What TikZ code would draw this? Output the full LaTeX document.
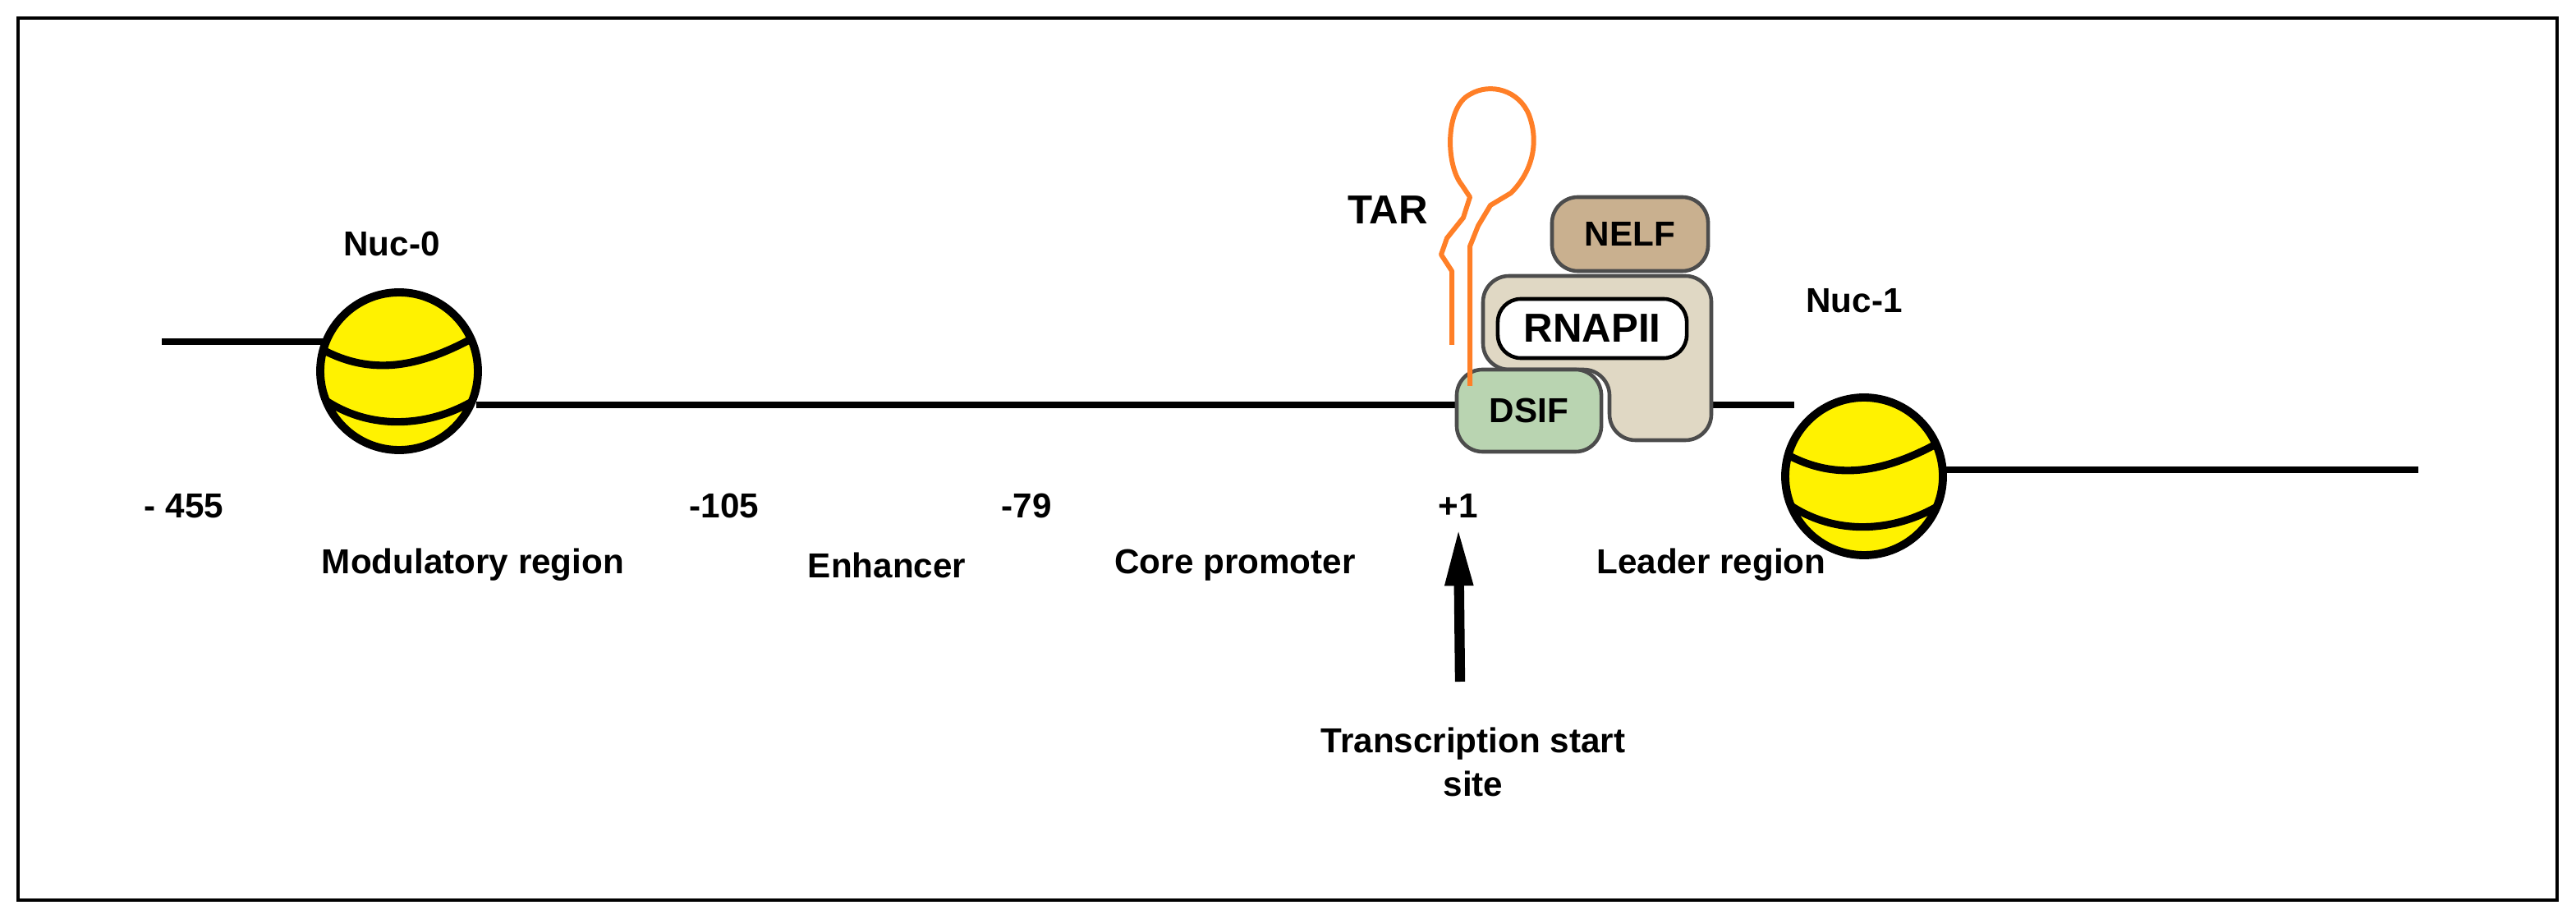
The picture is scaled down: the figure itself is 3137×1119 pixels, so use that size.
\documentclass[tikz,border=0pt]{standalone}
\usepackage{fontspec}
\setmainfont{Liberation Sans}
\usetikzlibrary{arrows.meta}
\definecolor{nucyellow}{HTML}{FFF200}
\definecolor{dsifgreen}{HTML}{B9D4B1}
\definecolor{nelftan}{HTML}{C9B08F}
\definecolor{polbeige}{HTML}{E0D8C4}
\definecolor{tarorange}{HTML}{FF7F27}
\newcommand{\nucleosome}[2]{%
  \begin{scope}[shift={(#1)}]
    \fill[nucyellow] (0,0) circle (96);
    \begin{scope}
      \clip (0,0) circle (96);
      \draw[line width=2.6pt] (-100,-30) .. controls (-40,5) and (20,0) .. (100,-46);
      \draw[line width=2.6pt] (-100,28) .. controls (-40,75) and (40,70) .. (100,30);
    \end{scope}
    \draw[line width=2.8pt] (0,0) circle (96);
    \node[label] (#2) at (0,0) {};
  \end{scope}}
\begin{document}
\begin{tikzpicture}
  [
    x = 0.01cm, y = -0.01cm,
    every node/.style = {font=\fontsize{12}{14}\selectfont\bfseries},
    label/.style      = {inner sep=0pt},
    dna/.style        = {line width=2.3pt},
    factor/.style     = {draw=black!70, line width=1.3pt, rounded corners=9pt},
    rna/.style        = {draw=tarorange, line width=1.7pt, line join=round}
  ]
  % frame
  \useasboundingbox (0,0) rectangle (3137,1119);
  \draw[line width=1pt] (22,22) rectangle (3114,1096);
  % DNA
  \coordinate (dnaL) at (197,416);
  \coordinate (dnaR) at (2945,572);
  \draw[dna] (dnaL) -- (395,416);
  \draw[dna] (580,493) -- (1790,493);
  \draw[dna] (2080,493) -- (2185,493);
  \draw[dna] (2350,572) -- (dnaR);
  % nucleosomes
  \nucleosome{486,452}{nuc0}
  \nucleosome{2270,580}{nuc1}
  \node (nuc0lab) at (477,297) {Nuc-0};
  \node (nuc1lab) at (2258,366) {Nuc-1};
  % polymerase complex
  \draw[factor, fill=polbeige]
    (1806,336) -- (2084,336) -- (2084,536) -- (1960,536) -- (1960,450) -- (1806,450) -- cycle;
  \node[draw, line width=1.3pt, rounded corners=8pt, fill=white,
        minimum width=2.3cm, minimum height=0.72cm] (rnap) at (1939,400) {\fontsize{14}{16}\selectfont RNAPII};
  \node[factor, fill=nelftan, minimum width=1.9cm, minimum height=0.9cm] (nelf) at (1985,285) {NELF};
  \node[factor, fill=dsifgreen, minimum width=1.76cm, minimum height=1cm] (dsif) at (1862,500) {DSIF};
  % TAR hairpin
  \draw[rna] (1768,420) -- (1768,330) -- (1755,310) -- (1762,290) -- (1782,265) -- (1790,240) -- (1780,225)
    .. controls (1760,200) and (1760,130) .. (1790,115)
    .. controls (1815,100) and (1850,110) .. (1862,140)
    .. controls (1875,175) and (1865,210) .. (1840,235)
    -- (1815,250) -- (1800,275) -- (1790,300) -- (1790,470);
  \node (tar) at (1690,256) {\fontsize{14}{16}\selectfont TAR};
  % positions
  \node (p455) at (224,616) {- 455};
  \node (p105) at (882,616) {-105};
  \node (p79)  at (1250,616) {-79};
  \node (p1)   at (1776,616) {+1};
  \node (modreg)  at (576,688) {Modulatory region};
  \node (enh)     at (1080,688) {Enhancer};
  \node (core)    at (1504,688) {Core promoter};
  \node (leader)  at (2084,688) {Leader region};
  \node[align=center, font=\fontsize{12}{15}\selectfont\bfseries] (tss) at (1794,928) {Transcription start\\site};
  \coordinate (tsstop) at (1778,830);
  \draw[line width=3.5pt, -{Triangle[length=20pt,width=9pt]}] (tsstop) -- (p1.south);
\end{tikzpicture}
\end{document}
